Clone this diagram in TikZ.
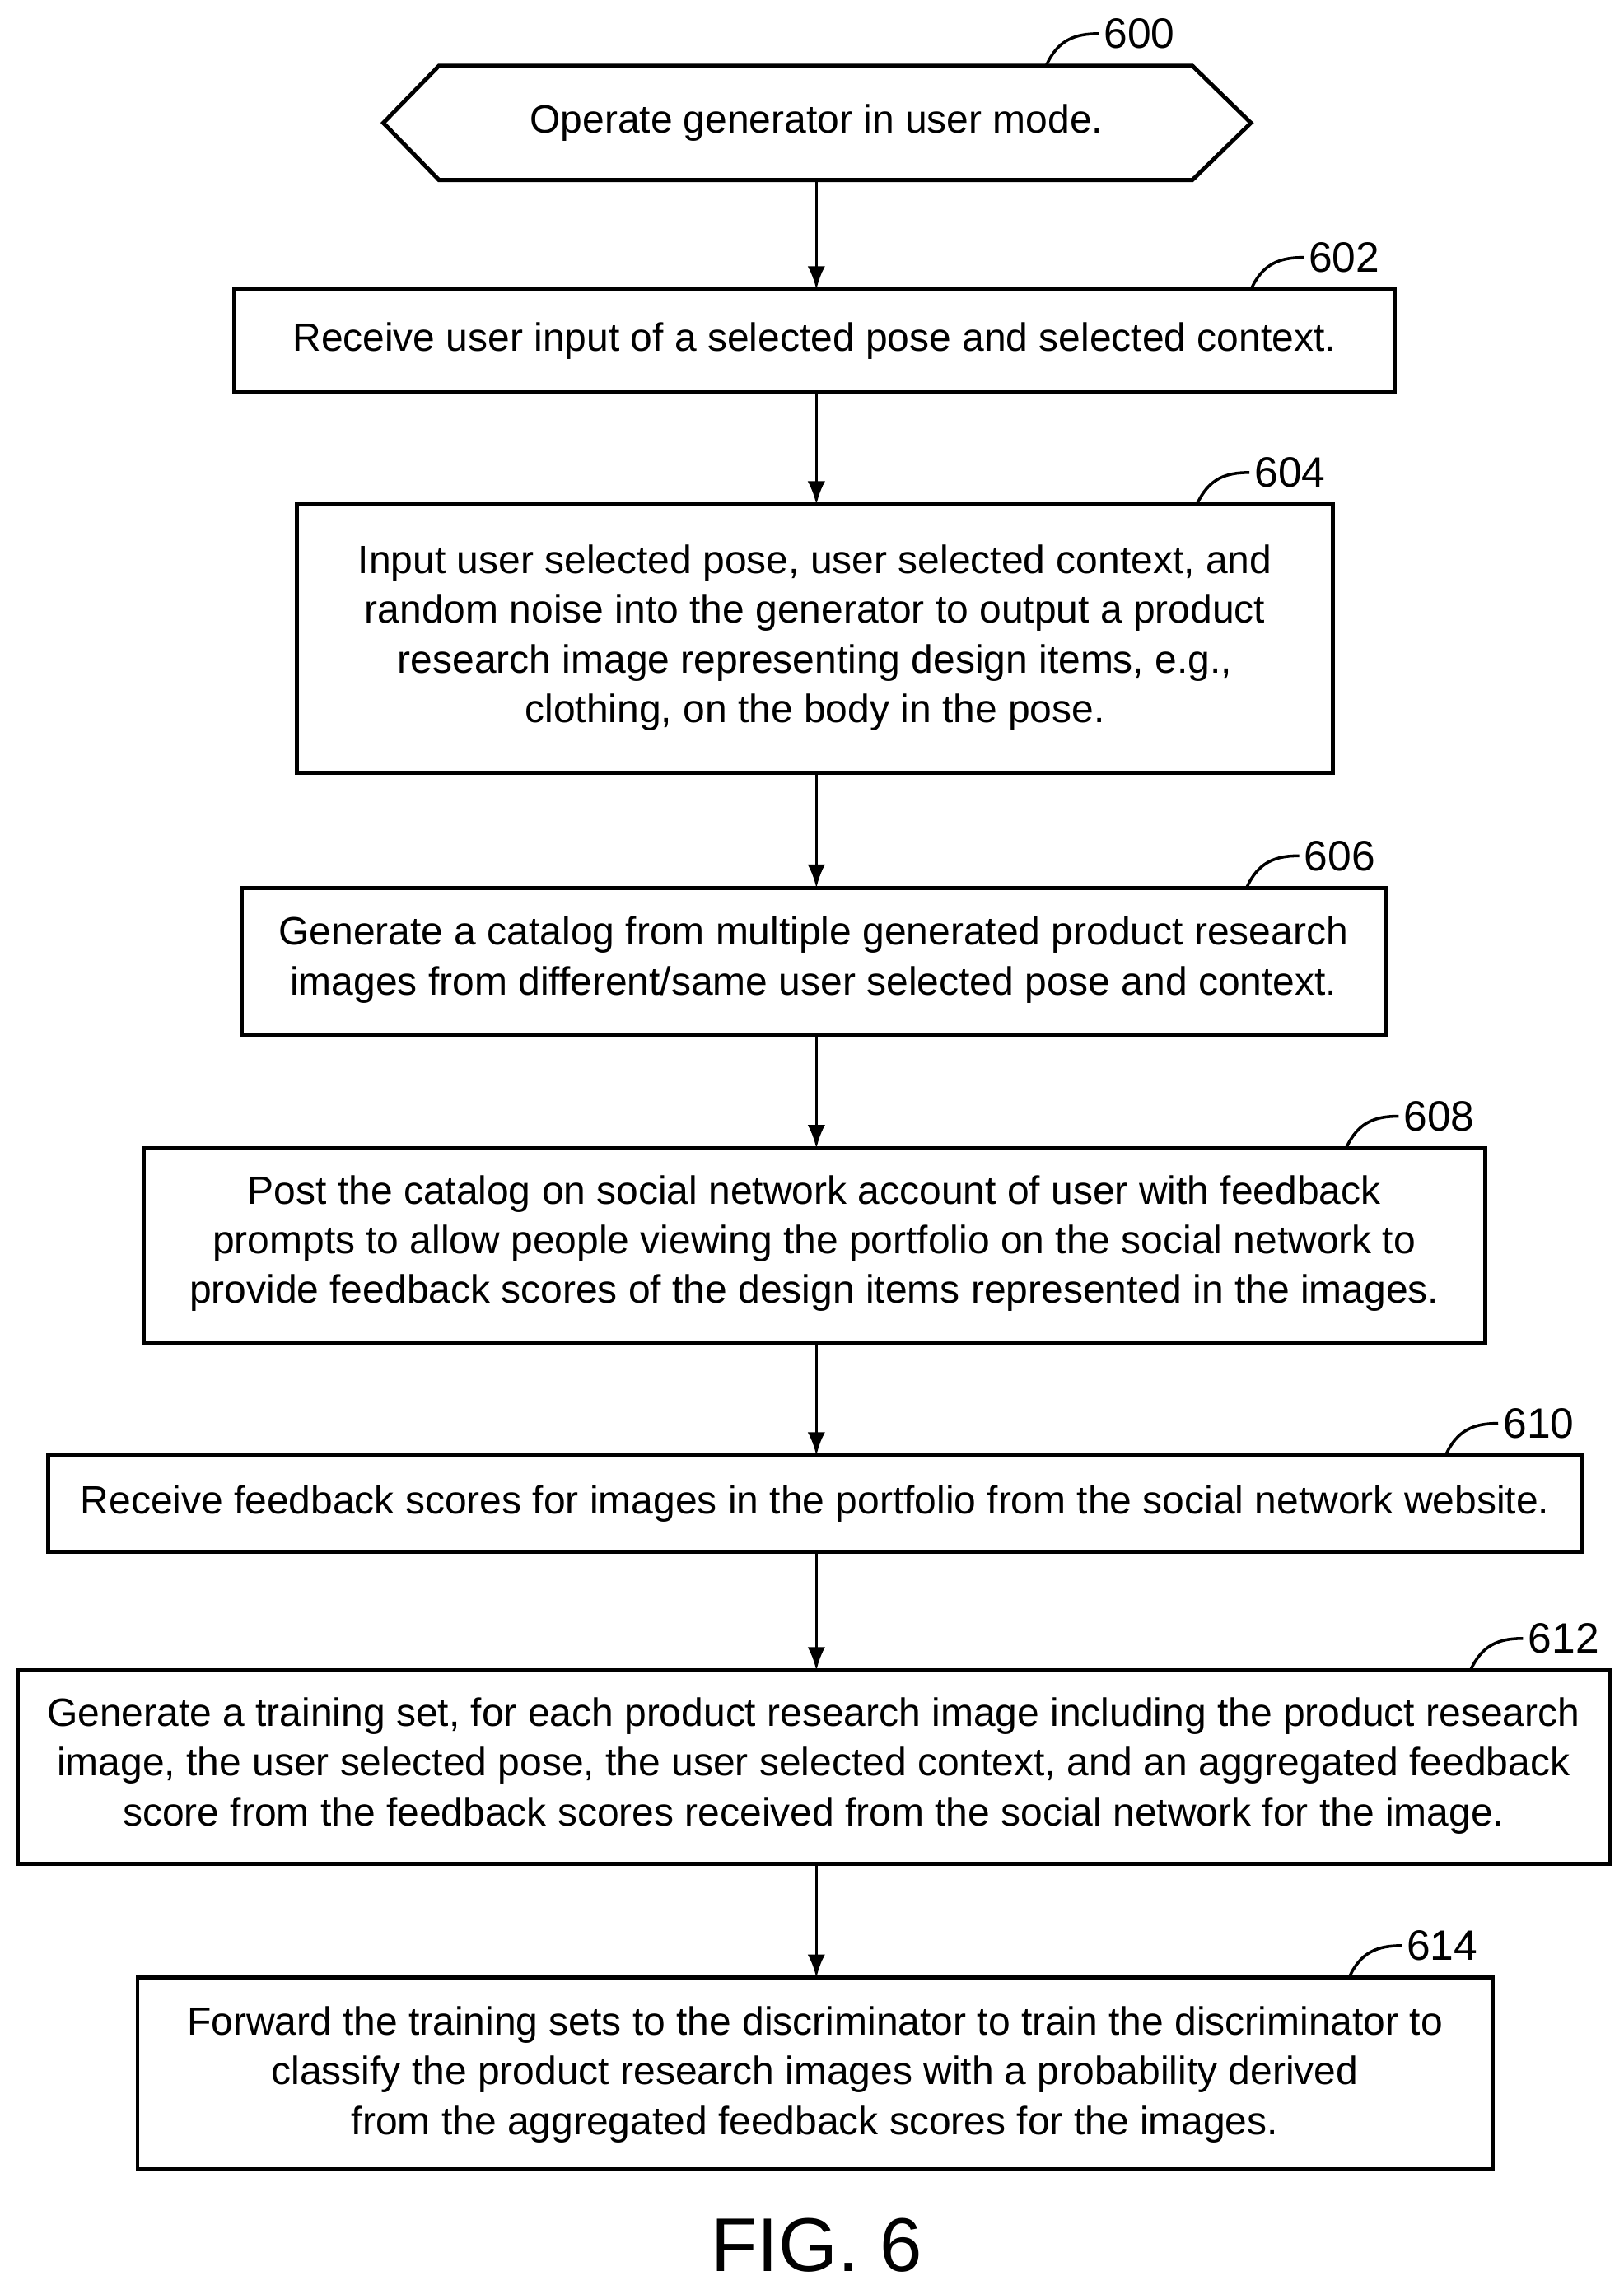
\documentclass[tikz,border=0pt]{standalone}
\usepackage{fontspec}
\setmainfont{Liberation Sans}
\usetikzlibrary{arrows.meta}
\begin{document}
\begin{tikzpicture}[x=1pt,y=-1pt,
  box/.style={draw,line width=2.8pt},
  txt/.style={align=center,font=\fontsize{27}{34}\selectfont},
  arr/.style={-{Latex[length=16pt,width=12pt]},line width=2pt},
  lead/.style={line width=2pt},
  num/.style={font=\fontsize{29}{32}\selectfont,anchor=west}]
\useasboundingbox (0,0) rectangle (1110,1562);
\draw[box] (262,84) -- (300,45) -- (815,45) -- (855,84) -- (815,123) -- (300,123) -- cycle;
\node[txt] (n600) at (558,84) {Operate generator in user mode.};
\coordinate (b600) at (558,123);
\draw[box] (160,198) rectangle (953,268); \coordinate (t602) at (558,198); \coordinate (b602) at (558,268);
\node[txt] (n602) at (556.5,233) {Receive user input of a selected pose and selected context.};
\draw[box] (203,345) rectangle (911,528); \coordinate (t604) at (558,345); \coordinate (b604) at (558,528);
\node[txt] (n604) at (557,436) {Input user selected pose, user selected context, and\\random noise into the generator to output a product\\research image representing design items, e.g.,\\clothing, on the body in the pose.};
\draw[box] (165,607) rectangle (947,707); \coordinate (t606) at (558,607); \coordinate (b606) at (558,707);
\node[txt] (n606) at (556,656) {Generate a catalog from multiple generated product research\\images from different/same user selected pose and context.};
\draw[box] (98,785) rectangle (1015,918); \coordinate (t608) at (558,785); \coordinate (b608) at (558,918);
\node[txt] (n608) at (556.5,850) {Post the catalog on social network account of user with feedback\\prompts to allow people viewing the portfolio on the social network to\\provide feedback scores of the design items represented in the images.};
\draw[box] (33,995) rectangle (1081,1061); \coordinate (t610) at (558,995); \coordinate (b610) at (558,1061);
\node[txt] (n610) at (557,1028) {Receive feedback scores for images in the portfolio from the social network website.};
\draw[box] (12,1142) rectangle (1100,1274); \coordinate (t612) at (558,1142); \coordinate (b612) at (558,1274);
\node[txt] (n612) at (556,1207) {Generate a training set, for each product research image including the product research\\image, the user selected pose, the user selected context, and an aggregated feedback\\score from the feedback scores received from the social network for the image.};
\draw[box] (94,1352) rectangle (1020,1483); \coordinate (t614) at (558,1352);
\node[txt] (n614) at (557,1418) {Forward the training sets to the discriminator to train the discriminator to\\classify the product research images with a probability derived\\from the aggregated feedback scores for the images.};
\draw[arr] (b600) -- (t602);
\draw[arr] (b602) -- (t604);
\draw[arr] (b604) -- (t606);
\draw[arr] (b606) -- (t608);
\draw[arr] (b608) -- (t610);
\draw[arr] (b610) -- (t612);
\draw[arr] (b612) -- (t614);
\foreach \n/\x/\y in {600/715/45,602/855/198,604/818/345,606/852/607,608/920/785,610/988/995,612/1005/1142,614/922/1352}{
  \node[num] (l\n) at (\x+36,\y-22) {\n};
  \draw[lead] (\x,\y) .. controls (\x+8,\y-18) and (\x+20,\y-22) .. (l\n.west);
}
\node[font=\fontsize{52}{58}\selectfont] (fig) at (558,1535) {FIG. 6};
\end{tikzpicture}
\end{document}
